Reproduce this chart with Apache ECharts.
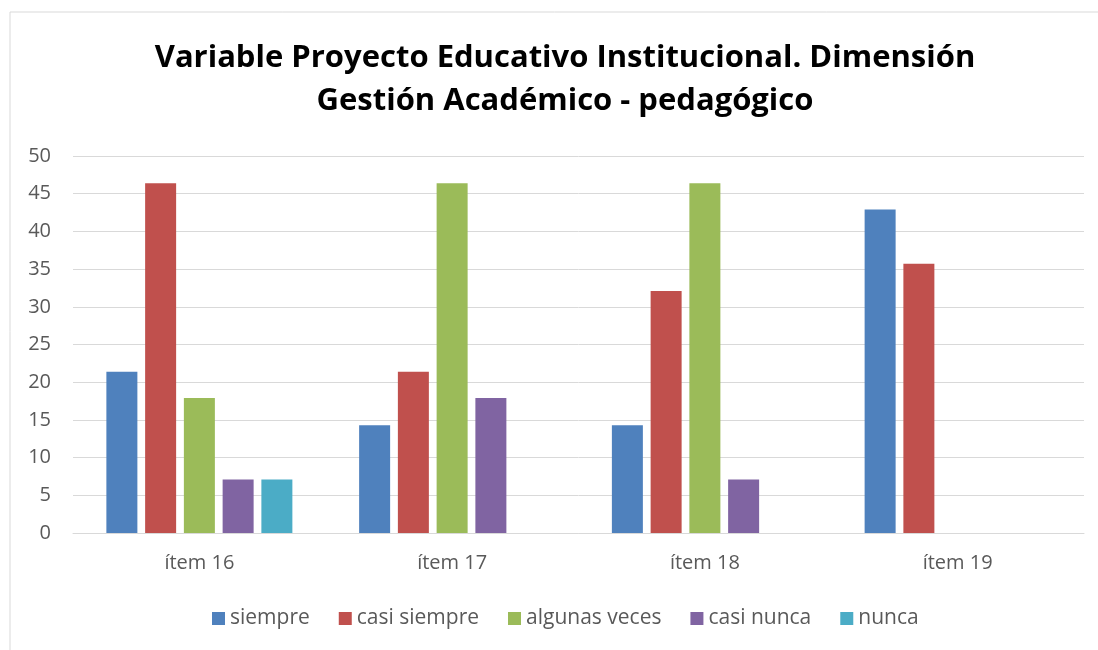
<!DOCTYPE html>
<html><head><meta charset="utf-8">
<script src="https://cdn.jsdelivr.net/npm/echarts@6/dist/echarts.min.js"></script>
<style>html,body{margin:0;padding:0;background:#fff}#c{width:1098px;height:650px}</style>
</head><body><div id="c"></div>
<script>
const categories = ['ítem 16', 'ítem 17', 'ítem 18', 'ítem 19'];
const seriesNames = ['siempre', 'casi siempre', 'algunas veces', 'casi nunca', 'nunca'];
const siempre = [21.4, 14.3, 14.3, 42.9];
const casiSiempre = [46.4, 21.4, 32.1, 35.7];
const algunasVeces = [17.9, 46.4, 46.4, 0];
const casiNunca = [7.1, 17.9, 7.1, 0];
const nunca = [7.1, 0, 0, 0];
const yTicks = [0, 5, 10, 15, 20, 25, 30, 35, 40, 45, 50];
const colors = ['#4F81BD', '#C0504D', '#9BBB59', '#8064A2', '#4BACC6'];
const values = [siempre, casiSiempre, algunasVeces, casiNunca, nunca];
const FONT = '"Open Sans", "Noto Sans", sans-serif';
const chart = echarts.init(document.getElementById('c'));
chart.setOption({
  animation: false,
  color: colors,
  title: {
    text: 'Variable Proyecto Educativo Institucional. Dimensión\nGestión Académico - pedagógico',
    left: 560, top: 32, textAlign: 'center',
    textStyle: {fontFamily: FONT, fontWeight: 'bold', fontSize: 31, color: '#000', lineHeight: 43}
  },
  graphic: [{type: 'rect', shape: {x: 10, y: 12, width: 1100, height: 700}, style: {fill: 'none', stroke: '#D9D9D9', lineWidth: 1}, silent: true, z: -1}],
  legend: {
    bottom: 16, left: 207, itemWidth: 13, itemHeight: 13, itemGap: 29,
    icon: 'rect',
    textStyle: {fontFamily: FONT, fontSize: 21, color: '#595959'},
    data: seriesNames
  },
  grid: {left: 73, right: 14, top: 156, bottom: 117},
  xAxis: {
    type: 'category', data: categories,
    axisLine: {lineStyle: {color: '#D9D9D9', width: 1}},
    axisTick: {show: false},
    axisLabel: {fontFamily: FONT, fontSize: 20, color: '#595959', margin: 20}
  },
  yAxis: {
    type: 'value', min: 0, max: 50, interval: 5,
    axisLine: {show: false}, axisTick: {show: false},
    splitLine: {lineStyle: {color: '#D9D9D9', width: 1}},
    axisLabel: {fontFamily: FONT, fontSize: 20, color: '#595959', margin: 22,
      formatter: v => yTicks.includes(v) ? String(v) : ''}
  },
  series: seriesNames.map((n, i) => ({
    name: n, type: 'bar', data: values[i], barWidth: 31, barGap: '25%'
  }))
});
</script></body></html>
